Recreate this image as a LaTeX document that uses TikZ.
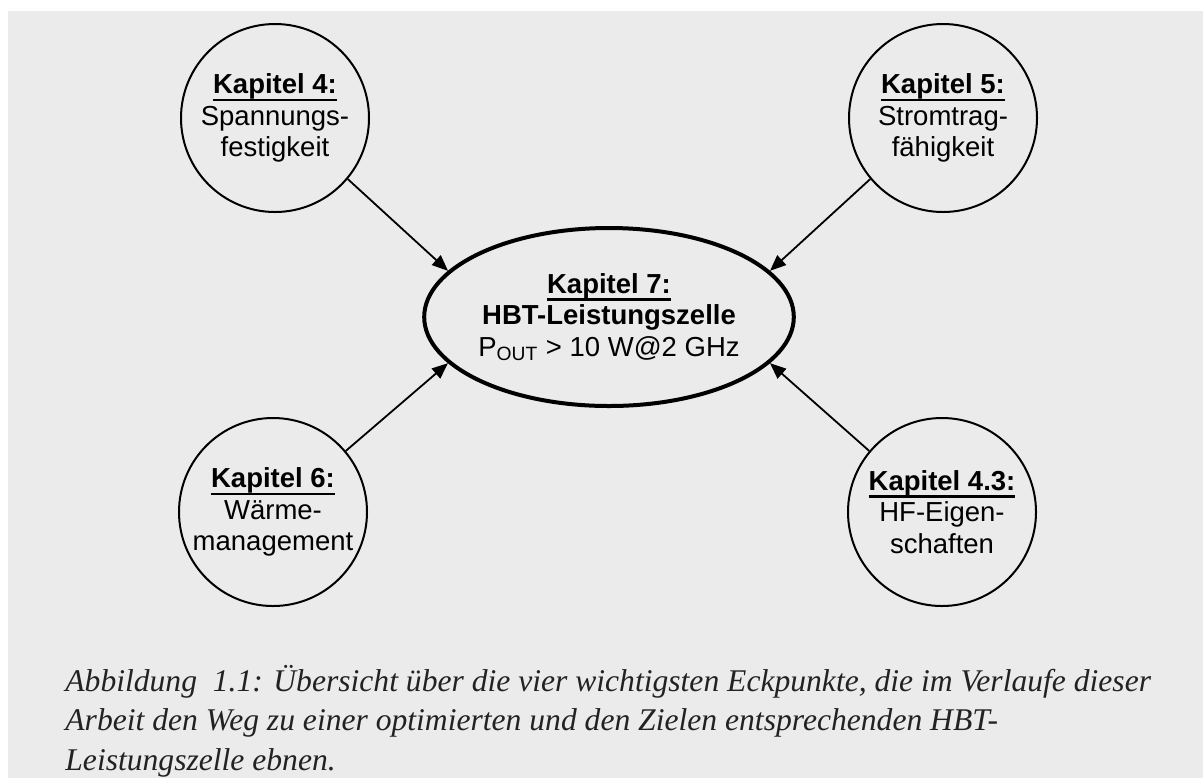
\documentclass[tikz,border=0pt]{standalone}
\usepackage{fontspec}
\setmainfont{Liberation Sans}
\newfontfamily\capfont{Liberation Serif}
\usetikzlibrary{shapes.geometric,arrows.meta}
\definecolor{bg}{RGB}{235,235,235}
\definecolor{captxt}{RGB}{34,34,34}
\newcommand\chapul[1]{\setbox0\hbox{#1}\rlap{\rule[-3.7pt]{\wd0}{1.2pt}}\box0}
\begin{document}
\begin{tikzpicture}[x=0.5pt,y=-0.5pt,
  chap/.style={circle,draw,line width=1pt,minimum size=94pt,inner sep=0pt,align=center,
    font=\fontsize{13.75}{15.8}\selectfont},
  core/.style={ellipse,draw,line width=2pt,minimum width=184pt,minimum height=89pt,inner sep=0pt,align=center,
    font=\fontsize{13.75}{15.8}\selectfont},
  conn/.style={line width=0.9pt,-{Triangle[length=8pt,width=6.5pt]}},
  captext/.style={anchor=base west,inner sep=0pt,text=captxt,
    font=\capfont\itshape\fontsize{15.8}{20}\selectfont}
]
\useasboundingbox (0,0) rectangle (1203,778);
\fill[white] (0,0) rectangle (1203,778);
\fill[bg] (8,11) rectangle (1203,778);

\node[chap] (c1) at (275,118) {\chapul{\textbf{Kapitel 4:}}\\Spannungs-\\festigkeit};
\node[chap] (c2) at (943,118) {\chapul{\textbf{Kapitel 5:}}\\Stromtrag-\\fähigkeit};
\node[chap] (c3) at (273,512) {\chapul{\textbf{Kapitel 6:}}\\Wärme-\\management};
\node[chap] (c4) at (942,512) {\chapul{\textbf{Kapitel 4.3:}}\\HF-Eigen-\\schaften};
\node[core] (e) at (609,317) {\chapul{\textbf{Kapitel 7:}}\\\textbf{HBT-Leistungszelle}\\P\textsubscript{OUT} > 10 W@2 GHz};

\draw[conn] (c1.-40) -- (e.164);
\draw[conn] (c2.-140) -- (e.16);
\draw[conn] (c3.40) -- (e.196);
\draw[conn] (c4.140) -- (e.-16);

\node[captext] (cap1) at (65,691) {Abbildung\ \ 1.1: Übersicht über die vier wichtigsten Eckpunkte, die im Verlaufe dieser};
\node[captext] (cap2) at (65,730) {Arbeit den Weg zu einer optimierten und den Zielen entsprechenden HBT-};
\node[captext] (cap3) at (65,770) {Leistungszelle ebnen.};
\end{tikzpicture}
\end{document}
